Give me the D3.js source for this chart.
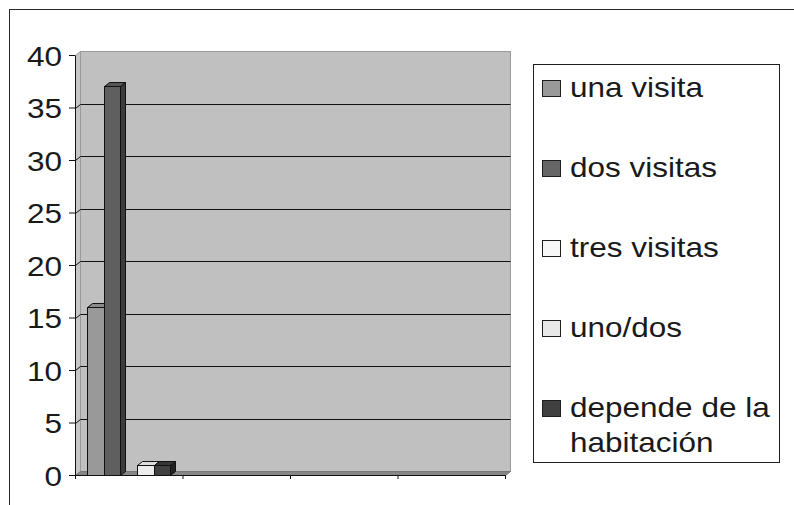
<!DOCTYPE html>
<html>
<head>
<meta charset="utf-8">
<script src="https://cdn.jsdelivr.net/npm/d3@7"></script>
<style>
  html, body { margin: 0; padding: 0; background: #ffffff; }
  svg { display: block; }
  text { font-family: "Liberation Sans", Arial, sans-serif; fill: #1a1a1a; }
</style>
</head>
<body>
<svg id="chart" width="794" height="505"></svg>
<script>
// Category slots along the x axis (no visible labels)
const categories = ["", "", "", ""];

// Series names and values per category
const seriesNames = ["una visita", "dos visitas", "tres visitas", "uno/dos", "depende de la habitación"];
const unaVisita   = [16, null, null, null];
const dosVisitas  = [37, null, null, null];
const tresVisitas = [null, null, null, null];
const unoDos      = [1, null, null, null];
const depende     = [1, null, null, null];
const seriesValues = [unaVisita, dosVisitas, tresVisitas, unoDos, depende];

// Y axis ticks
const yTicks = [0, 5, 10, 15, 20, 25, 30, 35, 40];

// Fill colours: front / top / side faces
const colors = [
  { front: "#999999", top: "#8a8a8a", side: "#6e6e6e", swatch: "#999999" },
  { front: "#5f5f5f", top: "#555555", side: "#3c3c3c", swatch: "#666666" },
  { front: "#f7f7f7", top: "#e6e6e6", side: "#cfcfcf", swatch: "#f7f7f7" },
  { front: "#ececec", top: "#dcdcdc", side: "#bdbdbd", swatch: "#e8e8e8" },
  { front: "#404040", top: "#353535", side: "#222222", swatch: "#404040" }
];

const svg = d3.select("#chart");
const STRETCH = 1.125;      // horizontal text widening
const FONT = 28;

function widen(sel) {
  sel.each(function () {
    const len = this.getComputedTextLength();
    if (len > 0) {
      d3.select(this).attr("textLength", len * STRETCH).attr("lengthAdjust", "spacingAndGlyphs");
    }
  });
}

// Outer chart frame
svg.append("rect")
  .attr("x", 9.5).attr("y", 9.5).attr("width", 900).attr("height", 600)
  .attr("fill", "none").attr("stroke", "#2a2a2a").attr("stroke-width", 1);

// Plot geometry
const left = 75, right = 505;
const dx = 5, dy = -4;       // depth offset of the back wall

const y = d3.scaleLinear().domain([0, 40]).range([475, 55]);
const xEdge = d3.scaleLinear().domain([0, categories.length]).range([left, right]);
const x0 = d3.scaleBand().domain(d3.range(categories.length)).range([left, right]).padding(0);
const x1 = d3.scaleBand().domain(d3.range(seriesNames.length))
  .range([0, x0.bandwidth()]).paddingInner(0).paddingOuter(0.75);

const yBase = y(0), yMax = y(40);

// Back wall
svg.append("rect")
  .attr("x", left + dx + 0.5).attr("y", yMax + dy + 0.5)
  .attr("width", right - left).attr("height", yBase - yMax)
  .attr("fill", "#c0c0c0").attr("stroke", "#9a9a9a");

// Side wall
svg.append("path")
  .attr("d", `M${left + 0.5},${yBase + 0.5} L${left + 0.5},${yMax + 0.5} L${left + dx + 0.5},${yMax + dy + 0.5} L${left + dx + 0.5},${yBase + dy + 0.5} Z`)
  .attr("fill", "#c6c6c6").attr("stroke", "#9a9a9a");

// Floor
svg.append("path")
  .attr("d", `M${left + 0.5},${yBase + 0.5} L${left + dx + 0.5},${yBase + dy + 0.5} L${right + dx + 0.5},${yBase + dy + 0.5} L${right + 0.5},${yBase + 0.5} Z`)
  .attr("fill", "#868686").attr("stroke", "#777777");

// Gridlines across side wall and back wall
svg.append("g").selectAll("path")
  .data(yTicks.filter(v => v > 0 && v < 40))
  .join("path")
  .attr("d", v => {
    const yy = Math.round(y(v)) + 0.5;
    return `M${left + 0.5},${yy} L${left + dx + 0.5},${yy + dy} L${right + dx + 0.5},${yy + dy}`;
  })
  .attr("fill", "none").attr("stroke", "#111111").attr("stroke-width", 1);

// Bars as 3D columns
const barDepthX = 5, barDepthY = -4;
const barG = svg.append("g");
const barData = [];
categories.forEach((c, ci) => {
  seriesValues.forEach((vals, si) => {
    const v = vals[ci];
    if (v !== null && v !== undefined) barData.push({ ci, si, v });
  });
});
barData.forEach(d => {
  const bx0 = Math.round(x0(d.ci) + x1(d.si)) + 0.5;
  const bx1 = Math.round(x0(d.ci) + x1(d.si) + x1.bandwidth()) + 0.5;
  const yt = Math.round(y(d.v)) + 0.5;
  const yb = Math.round(yBase) + 0.5;
  const col = colors[d.si];
  const g = barG.append("g").attr("stroke", "#111111").attr("stroke-width", 1).attr("stroke-linejoin", "miter");
  g.append("path")
    .attr("d", `M${bx1},${yt} L${bx1 + barDepthX},${yt + barDepthY} L${bx1 + barDepthX},${yb + barDepthY} L${bx1},${yb} Z`)
    .attr("fill", col.side);
  g.append("path")
    .attr("d", `M${bx0},${yt} L${bx0 + barDepthX},${yt + barDepthY} L${bx1 + barDepthX},${yt + barDepthY} L${bx1},${yt} Z`)
    .attr("fill", col.top);
  g.append("rect")
    .attr("x", bx0).attr("y", yt).attr("width", bx1 - bx0).attr("height", yb - yt)
    .attr("fill", col.front);
});

// Y axis
const yAxis = svg.append("g")
  .attr("transform", `translate(${left},0)`)
  .call(d3.axisLeft(y).tickValues(yTicks).tickSize(6).tickSizeOuter(0).tickPadding(7));
yAxis.select(".domain").attr("stroke", "#111111");
yAxis.selectAll(".tick line").attr("stroke", "#111111");
yAxis.selectAll(".tick text")
  .attr("font-size", FONT).attr("font-family", "Liberation Sans, Arial, sans-serif")
  .attr("fill", "#1a1a1a").attr("dy", "0.36em");
widen(yAxis.selectAll(".tick text"));

// X axis with ticks between categories
const xAxis = svg.append("g")
  .attr("transform", `translate(0,${yBase})`)
  .call(d3.axisBottom(xEdge).tickValues(d3.range(categories.length + 1)).tickFormat(() => "").tickSize(4).tickSizeOuter(0));
xAxis.select(".domain").attr("stroke", "#111111");
xAxis.selectAll(".tick line").attr("stroke", "#111111");

// Legend
const legend = svg.append("g");
legend.append("rect")
  .attr("x", 533.5).attr("y", 64.5).attr("width", 246).attr("height", 398)
  .attr("fill", "#ffffff").attr("stroke", "#1e1e1e").attr("stroke-width", 1);

const legendBaselines = [97, 177, 257, 337, 417];
const legendLines = [["una visita"], ["dos visitas"], ["tres visitas"], ["uno/dos"], ["depende de la", "habitación"]];
seriesNames.forEach((name, i) => {
  const by = legendBaselines[i];
  legend.append("rect")
    .attr("x", 542.5).attr("y", by - 17 + 0.5).attr("width", 18).attr("height", 16)
    .attr("fill", colors[i].swatch).attr("stroke", "#1e1e1e");
  const t = legend.append("text")
    .attr("x", 570).attr("y", by)
    .attr("font-size", FONT);
  legendLines[i].forEach((line, li) => {
    t.append("tspan").attr("x", 570).attr("y", by + li * 35).text(line);
  });
});
legend.selectAll("tspan").each(function () {
  const len = this.getComputedTextLength();
  d3.select(this).attr("textLength", len * STRETCH).attr("lengthAdjust", "spacingAndGlyphs");
});
</script>
</body>
</html>
